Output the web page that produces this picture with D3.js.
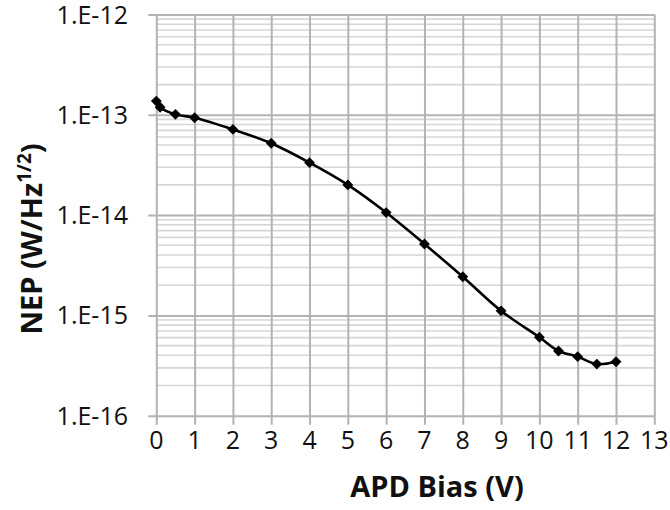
<!DOCTYPE html>
<html>
<head>
<meta charset="utf-8">
<script src="https://cdn.jsdelivr.net/npm/d3@7"></script>
<style>
  html, body { margin: 0; padding: 0; background: #fff; }
  svg { display: block; }
</style>
</head>
<body>
<svg id="chart" width="670" height="510"></svg>
<script>
// APD bias sweep: noise-equivalent power vs. bias voltage
const biasV = [0, 0.1, 0.5, 1, 2, 3, 4, 5, 6, 7, 8, 9, 10, 10.5, 11, 11.5, 12];
const nepValues = [1.37e-13, 1.19e-13, 1.01e-13, 9.35e-14, 7.15e-14, 5.2e-14, 3.33e-14,
                   2.0e-14, 1.06e-14, 5.15e-15, 2.43e-15, 1.11e-15, 6.05e-16, 4.42e-16,
                   3.88e-16, 3.27e-16, 3.45e-16];
const xTicks = [0, 1, 2, 3, 4, 5, 6, 7, 8, 9, 10, 11, 12, 13];
const yTicks = [1e-16, 1e-15, 1e-14, 1e-13, 1e-12];
const yTickLabels = ["1.E-16", "1.E-15", "1.E-14", "1.E-13", "1.E-12"];
const xTitle = "APD Bias (V)";

const svg = d3.select("#chart");
const plot = { left: 156.3, right: 654.3, top: 14.5, bottom: 415.7 };

const x = d3.scaleLinear().domain([0, 13]).range([plot.left, plot.right]);
const y = d3.scaleLog().domain([1e-16, 1e-12]).range([plot.bottom, plot.top]);

const gridMajor = "#b3b3b3";
const gridMinor = "#d6d6d6";
const font = "'Open Sans', sans-serif";

// minor horizontal gridlines (2..9 within each decade)
const minorVals = [];
for (let e = -16; e < -12; e++) {
  for (let m = 2; m <= 9; m++) minorVals.push(m * Math.pow(10, e));
}
svg.append("g").selectAll("line").data(minorVals).join("line")
  .attr("x1", plot.left).attr("x2", plot.right)
  .attr("y1", d => y(d)).attr("y2", d => y(d))
  .attr("stroke", gridMinor).attr("stroke-width", 1.6);

// major horizontal gridlines with outward ticks on the y axis
const yAxis = d3.axisLeft(y).tickValues(yTicks)
  .tickSize(-(plot.right - plot.left)).tickSizeOuter(0).tickFormat("");
const gy = svg.append("g").attr("transform", `translate(${plot.left},0)`).call(yAxis);
gy.select(".domain").remove();
gy.selectAll(".tick line").attr("stroke", gridMajor).attr("stroke-width", 2)
  .attr("x1", -8);

// vertical gridlines with outward ticks below the x axis
const xAxis = d3.axisBottom(x).tickValues(xTicks)
  .tickSize(-(plot.bottom - plot.top)).tickSizeOuter(0).tickFormat("");
const gx = svg.append("g").attr("transform", `translate(0,${plot.bottom})`).call(xAxis);
gx.select(".domain").remove();
gx.selectAll(".tick line").attr("stroke", gridMajor).attr("stroke-width", 2)
  .attr("y1", 9);

// tick labels
svg.append("g").selectAll("text").data(yTicks).join("text")
  .attr("x", 128).attr("y", d => y(d)).attr("dy", "0.36em")
  .attr("text-anchor", "end")
  .attr("font-family", font).attr("font-size", 25).attr("fill", "#111")
  .text((d, i) => yTickLabels[i]);

svg.append("g").selectAll("text").data(xTicks).join("text")
  .attr("x", d => x(d)).attr("y", 449)
  .attr("text-anchor", "middle")
  .attr("font-family", font).attr("font-size", 25).attr("fill", "#111")
  .text(d => d);

// axis titles
svg.append("text")
  .attr("x", 437).attr("y", 497)
  .attr("text-anchor", "middle")
  .attr("font-family", font).attr("font-size", 29).attr("font-weight", "bold")
  .attr("fill", "#111")
  .text(xTitle);

const yt = svg.append("text")
  .attr("transform", "translate(42,239) rotate(-90)")
  .attr("text-anchor", "middle")
  .attr("font-family", font).attr("font-size", 29).attr("font-weight", "bold")
  .attr("fill", "#111");
yt.append("tspan").text("NEP (W/Hz");
yt.append("tspan").attr("font-size", 19).attr("dy", -11).text("1/2");
yt.append("tspan").attr("dy", 11).text(")");

// data series: smoothed line with diamond markers
const pts = biasV.map((v, i) => [v, nepValues[i]]);
const line = d3.line()
  .x(d => x(d[0])).y(d => y(d[1]))
  .curve(d3.curveCatmullRom.alpha(0.5));

svg.append("path").datum(pts)
  .attr("d", line)
  .attr("fill", "none").attr("stroke", "#000").attr("stroke-width", 2.6);

const diamond = d3.symbol().type(d3.symbolDiamond2).size(75);
svg.append("g").selectAll("path").data(pts).join("path")
  .attr("transform", d => `translate(${x(d[0])},${y(d[1])})`)
  .attr("d", diamond)
  .attr("fill", "#000");
</script>
</body>
</html>
